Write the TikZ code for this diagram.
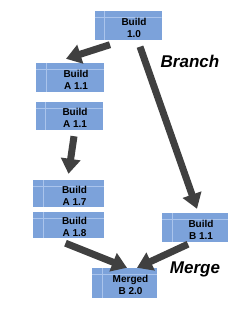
\documentclass[tikz,border=0pt]{standalone}
\usepackage{fontspec}
\setmainfont{Liberation Sans}
\usetikzlibrary{arrows.meta}

\definecolor{cellblue}{RGB}{124,162,218}
\definecolor{cellline}{RGB}{170,196,236}
\definecolor{flowgray}{RGB}{64,64,64}

% two lines, set right of the first grid column and under the first grid row
\newcommand{\cellpair}[2]{\raisebox{-3.5pt}[\height][\depth]{%
  \begin{tabular}{@{\hspace{12pt}}c@{}}#1\\#2\end{tabular}}}

\tikzset{
  cell/.style={fill=cellblue, minimum width=67pt, minimum height=29pt,
    inner sep=0pt, font=\bfseries\fontsize{10}{12}\selectfont,
    path picture={
      \draw[cellline, line width=0.6pt]
        ([xshift=10pt]path picture bounding box.north west) --
        ([xshift=10pt]path picture bounding box.south west);
      \draw[cellline, line width=0.6pt]
        ([yshift=-6pt]path picture bounding box.north west) --
        ([yshift=-6pt]path picture bounding box.north east);
    }},
  flow/.style={draw=flowgray, line width=7pt,
    -{Triangle[length=15pt,width=19pt]}},
  tag/.style={font=\bfseries\itshape\fontsize{17}{20}\selectfont}
}

\begin{document}
\begin{tikzpicture}[x=1pt, y=-1pt]
            \useasboundingbox (0,0) rectangle (247,320);

            \node[cell] (b10) at (128,26) {\cellpair{Build}{1.0}};
            \node[cell, minimum width=68pt] (a11) at (70,77.5) {\cellpair{Build}{A 1.1}};
            \node[cell, minimum height=28pt] (a11b) at (69,116) {\cellpair{Build}{A 1.1}};
            \node[cell, minimum width=71pt, minimum height=27pt] (a17) at (68.5,193.5) {\cellpair{Build}{A 1.7}};
            \node[cell, minimum width=71pt, minimum height=26pt] (a18) at (68.5,225) {\cellpair{Build}{A 1.8}};
            \node[cell, minimum width=66pt] (b11) at (195,227.5) {\cellpair{Build}{B 1.1}};
            \node[cell, minimum width=65pt, minimum height=30pt] (m20) at (124.5,283) {\cellpair{Merged}{B 2.0}};

            \draw[flow] ([xshift=-18pt,yshift=-4pt]b10.south) -- ([xshift=-4pt,yshift=4pt]a11.north);
            \draw[flow] ([xshift=12pt,yshift=-6pt]b10.south) -- ([xshift=2pt,yshift=4pt]b11.north);
            \draw[flow] ([xshift=5pt,yshift=-6pt]a11b.south) -- ([yshift=6pt]a17.north);
            \draw[flow] ([xshift=-3pt,yshift=-5pt]a18.south) -- ([xshift=2.5pt]m20.north);
            \draw[flow] ([xshift=-7pt,yshift=-2pt]b11.south) -- ([xshift=12.5pt]m20.north);

            \node[tag] (branch) at (190,61) {Branch};
            \node[tag] (merge) at (195,269) {Merge};
            \end{tikzpicture}
\end{document}
